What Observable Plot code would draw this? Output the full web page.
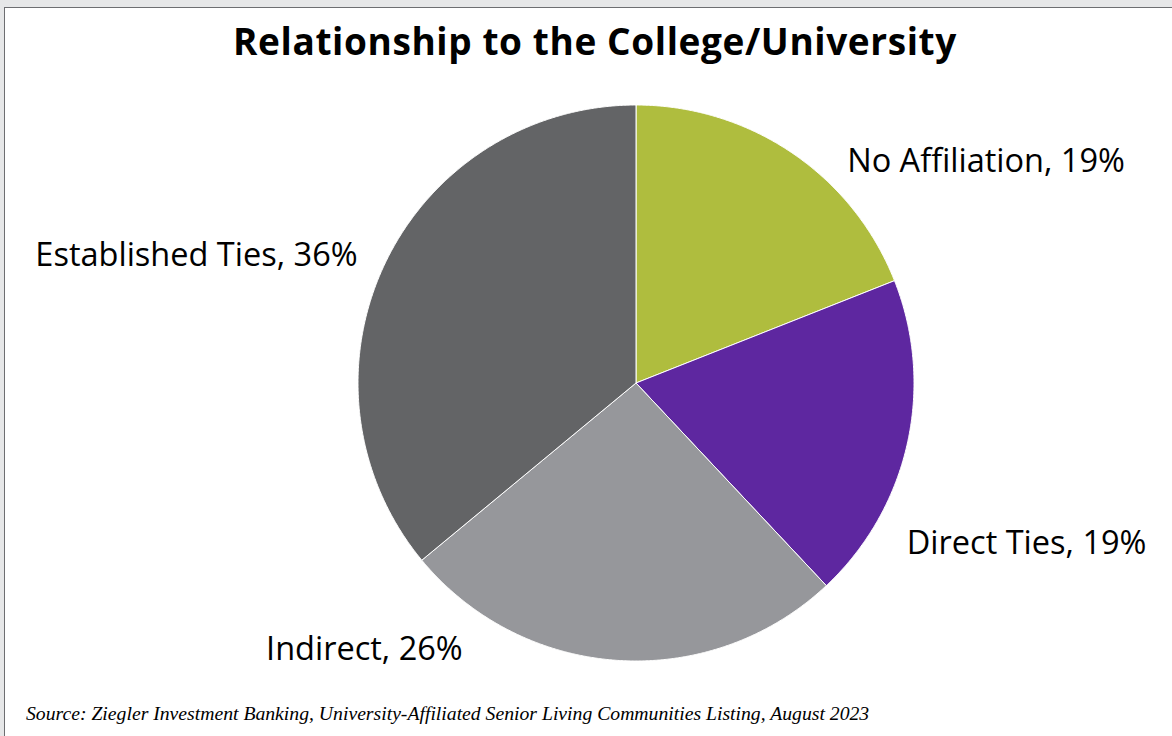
<!DOCTYPE html>
<html>
<head>
<meta charset="utf-8">
<script src="https://cdn.jsdelivr.net/npm/d3@7"></script>
<script src="https://cdn.jsdelivr.net/npm/@observablehq/plot@0.6"></script>
<style>
  html, body { margin: 0; padding: 0; width: 1172px; height: 736px; overflow: hidden; background: #e6e7e8; }
  #frame { position: absolute; left: 4px; top: 7px; width: 1200px; height: 760px; background: #fff;
           border-left: 1.5px solid #6d6e71; border-top: 1.5px solid #6d6e71; }
  #title { position: absolute; left: 0; width: 1180px; top: 7px; text-align: center;
           font-family: "Open Sans", sans-serif; font-weight: 700; font-size: 37px; color: #000; white-space: nowrap; letter-spacing: 0.6px; }
  #chart { position: absolute; left: -4px; top: 83px; }
  #caption { position: absolute; left: 21px; top: 694px; font-family: "Liberation Serif", serif; font-style: italic;
             font-size: 19.7px; color: #000; white-space: nowrap; }
</style>
</head>
<body>
<div id="frame">
  <div id="title">Relationship to the College/University</div>
  <div id="chart"></div>
  <div id="caption">Source: Ziegler Investment Banking, University-Affiliated Senior Living Communities Listing, August 2023</div>
</div>
<script>
const categories = ["No Affiliation", "Direct Ties", "Indirect", "Established Ties"];
const shares = [19, 19, 26, 36];
const colors = ["#afbd3e", "#5e27a0", "#96979b", "#636466"];

// label placement (in pie-radius units, relative to the centre)
const labelX = [1.259, 1.405, -0.977, -1.581];
const labelY = [0.795, -0.576, -0.960, 0.457];

const arcs = d3.pie().sort(null).value(d => d)(shares);
const slicePts = [];
arcs.forEach((a, i) => {
  const cat = categories[i];
  slicePts.push({cat, x: 0, y: 0});
  const n = Math.max(2, Math.ceil((a.endAngle - a.startAngle) / 0.005));
  for (let k = 0; k <= n; k++) {
    const t = a.startAngle + (a.endAngle - a.startAngle) * k / n;
    slicePts.push({cat, x: Math.sin(t), y: Math.cos(t)});
  }
  slicePts.push({cat, x: 0, y: 0});
});

const labels = categories.map((c, i) => ({text: `${c}, ${shares[i]}%`, x: labelX[i], y: labelY[i]}));

const cx = 634.5, cy = 291.5, r = 278;
const chart = Plot.plot({
  width: 1172,
  height: 600,
  margin: 0,
  x: {domain: [-1, 1], range: [cx - r, cx + r], axis: null},
  y: {domain: [-1, 1], range: [cy + r, cy - r], axis: null},
  color: {domain: categories, range: colors},
  marks: [
    Plot.line(slicePts, {x: "x", y: "y", z: "cat", fill: "cat", stroke: "#fff", strokeWidth: 1, curve: "linear"}),
    Plot.text(labels, {x: "x", y: "y", text: "text", fontSize: 32.5, fill: "#000",
      fontFamily: "'Open Sans', sans-serif", textAnchor: "middle"})
  ],
  style: {background: "transparent", overflow: "visible"}
});
document.getElementById("chart").appendChild(chart);
</script>
</body>
</html>
